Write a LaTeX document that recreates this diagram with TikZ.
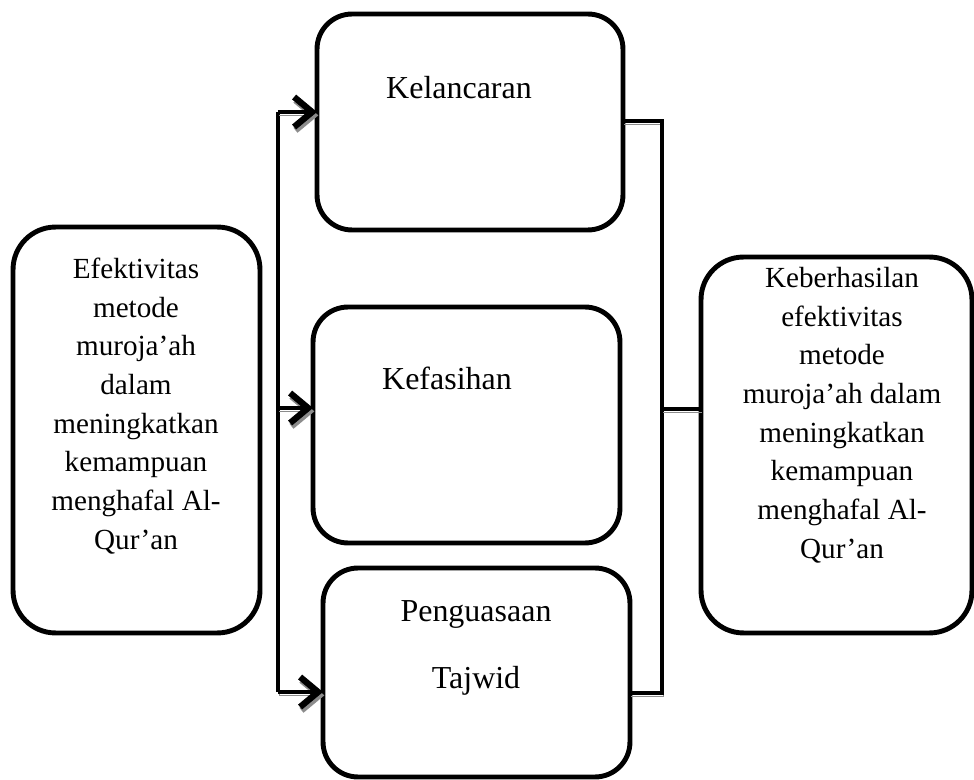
\documentclass[tikz,border=0pt]{standalone}
\usepackage{fontspec}
\setmainfont{Liberation Serif}
\usetikzlibrary{arrows.meta}
\begin{document}
\begin{tikzpicture}[x=0.02cm, y=-0.02cm,
  box/.style={draw=black, line width=2.8pt, rounded corners=0.7cm, inner sep=0pt, outer sep=0pt},
  bigbox/.style={box, rounded corners=0.85cm},
  txt/.style={align=center, inner sep=0pt, font=\fontsize{16.6}{22}\selectfont},
  midtxt/.style={txt, font=\fontsize{18.2}{22}\selectfont},
  conn/.style={draw=black, line width=2.4pt, preaction={draw=black!45, transform canvas={shift={(0.8pt,-1.9pt)}}}},
  arr/.style={conn, -{Straight Barb[length=0.36cm,width=0.6cm,line width=3.6pt]}}]
\useasboundingbox (0,0) rectangle (974,780);
% boxes
\node[bigbox, minimum width=4.94cm, minimum height=8.12cm] (efek) at (136.5,430) {};
\node[box, minimum width=6.12cm, minimum height=4.32cm] (kel) at (470,122) {};
\node[box, minimum width=6.14cm, minimum height=4.72cm] (kef) at (466.5,425) {};
\node[box, minimum width=6.14cm, minimum height=4.18cm] (taj) at (476.5,672.5) {};
\node[bigbox, minimum width=5.42cm, minimum height=7.52cm] (keb) at (836.5,445) {};
% texts
\node[txt] (efekt) at (136,406) {Efektivitas\\metode\\muroja’ah\\dalam\\meningkatkan\\kemampuan\\menghafal Al-\\Qur’an};
\node[midtxt] (kelt) at (459,88) {Kelancaran};
\node[midtxt] (keft) at (447,378) {Kefasihan};
\node[midtxt] (tajt) at (476,648) {Penguasaan\\[15.8pt]Tajwid};
\node[txt] (kebt) at (842,415) {Keberhasilan\\efektivitas\\metode\\muroja’ah dalam\\meningkatkan\\kemampuan\\menghafal Al-\\Qur’an};
% connectors
\coordinate (lt) at (278,112);
\coordinate (lm) at (278,408);
\coordinate (lb) at (278,692);
\coordinate (rt) at (662,121);
\coordinate (rm) at (662,409);
\coordinate (rb) at (662,693);
\draw[conn] (lt) -- (lb);
\draw[arr] (lt) -- (lt -| kel.west);
\draw[arr] (lm) -- (lm -| kef.west);
\draw[arr] (lb) -- (lb -| taj.west);
\draw[conn] (kel.east |- rt) -- (rt) -- (rb) -- (taj.east |- rb);
\draw[conn] (rm) -- (rm -| keb.west);
\end{tikzpicture}
\end{document}
